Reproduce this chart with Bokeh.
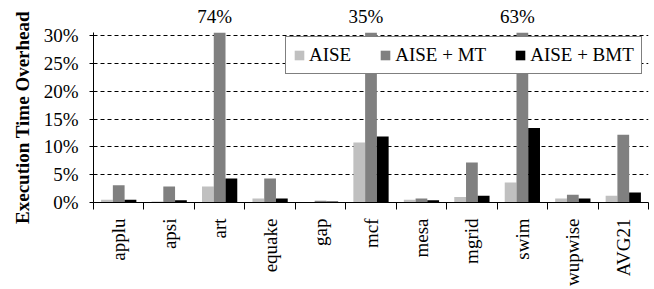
import math
from bokeh.plotting import figure
from bokeh.models import (Range1d, FixedTicker, PrintfTickFormatter, ColumnDataSource,
                          LinearAxis, Legend, LegendItem)
from bokeh.embed import file_html
from bokeh.resources import INLINE

categories = ["applu", "apsi", "art", "equake", "gap", "mcf", "mesa", "mgrid", "swim", "wupwise", "AVG21"]
aise = [0.5, 0.2, 2.9, 0.7, 0.1, 10.8, 0.5, 1.0, 3.6, 0.7, 1.2]
aise_mt = [3.1, 2.9, 74.0, 4.3, 0.3, 35.0, 0.7, 7.2, 63.0, 1.4, 12.2]
aise_bmt = [0.5, 0.4, 4.3, 0.7, 0.2, 11.9, 0.4, 1.2, 13.4, 0.7, 1.8]
series_names = ["AISE", "AISE + MT", "AISE + BMT"]
colors = ["#C0C0C0", "#808080", "#000000"]
y_ticks = [0, 5, 10, 15, 20, 25, 30]
y_max_shown = 30.6

FONT = "Liberation Serif"
FS = "19px"
n = len(categories)
centers = [i + 0.5 for i in range(n)]
bw = 0.233

p = figure(width=654, height=289, output_backend="svg", toolbar_location=None,
           x_range=Range1d(0, n), y_range=Range1d(0, y_max_shown),
           min_border_left=93, min_border_right=6, min_border_top=32, min_border_bottom=86)
p.outline_line_color = None
p.background_fill_color = "white"

renderers = []
for k, (vals, c) in enumerate(zip([aise, aise_mt, aise_bmt], colors)):
    src = ColumnDataSource(dict(x=[cx + (k - 1) * bw for cx in centers], top=vals))
    r = p.vbar(x="x", top="top", width=bw, source=src, fill_color=c, line_color=None)
    renderers.append(r)

xa = p.below[0]
ya = p.left[0]

# overflow labels, drawn as an axis above the plot
over_x, over_t = [], []
for cx, v in zip(centers, aise_mt):
    if v > y_max_shown:
        over_x.append(cx - 0.1)
        over_t.append(f"{v:.0f}%")
top_axis = LinearAxis(ticker=FixedTicker(ticks=over_x, minor_ticks=[]),
                      major_label_overrides={x: t for x, t in zip(over_x, over_t)})
top_axis.axis_line_color = None
top_axis.major_tick_line_color = None
top_axis.minor_tick_line_color = None
top_axis.major_tick_out = 0
top_axis.major_label_text_font = FONT
top_axis.major_label_text_font_size = FS
top_axis.major_label_text_color = "black"
top_axis.major_label_standoff = 6
p.add_layout(top_axis, "above")

# bottom axis
xa.ticker = FixedTicker(ticks=centers, minor_ticks=list(range(n + 1)))
xa.major_label_overrides = {c: name for c, name in zip(centers, categories)}
xa.major_label_orientation = math.pi / 2
xa.major_tick_out = 0
xa.major_tick_in = 0
xa.minor_tick_out = 7
xa.minor_tick_in = 0
xa.major_label_text_font = FONT
xa.major_label_text_font_size = FS
xa.major_label_text_color = "black"
xa.major_label_standoff = 9
xa.axis_line_color = "black"
xa.minor_tick_line_color = "black"

ya.ticker = FixedTicker(ticks=y_ticks)
ya.formatter = PrintfTickFormatter(format="%d%%")
ya.minor_tick_line_color = None
ya.major_tick_out = 4
ya.major_tick_in = 0
ya.major_label_text_font = FONT
ya.major_label_text_font_size = FS
ya.major_label_text_color = "black"
ya.major_label_standoff = 11
ya.axis_label = "Execution Time Overhead"
ya.axis_label_text_font = FONT
ya.axis_label_text_font_style = "bold"
ya.axis_label_text_font_size = FS
ya.axis_label_text_color = "black"
ya.axis_label_standoff = 8
ya.axis_line_color = "black"

p.xgrid.grid_line_color = None
p.ygrid.ticker = FixedTicker(ticks=[t for t in y_ticks if t > 0])
p.ygrid.grid_line_color = "black"
p.ygrid.grid_line_dash = "4 3"
p.ygrid.grid_line_width = 1

legend = Legend(items=[LegendItem(label=nm, renderers=[r]) for nm, r in zip(series_names, renderers)],
                orientation="horizontal", location=(192, 128))
legend.label_text_font = FONT
legend.label_text_font_size = FS
legend.label_text_color = "black"
legend.glyph_width = 12
legend.glyph_height = 12
legend.label_standoff = 4
legend.spacing = 28
legend.padding = 7
legend.margin = 0
legend.border_line_color = "black"
legend.border_line_width = 1
legend.background_fill_color = "white"
legend.background_fill_alpha = 1
legend.label_height = 12
p.add_layout(legend)

open("out.html", "w").write(file_html(p, INLINE))
